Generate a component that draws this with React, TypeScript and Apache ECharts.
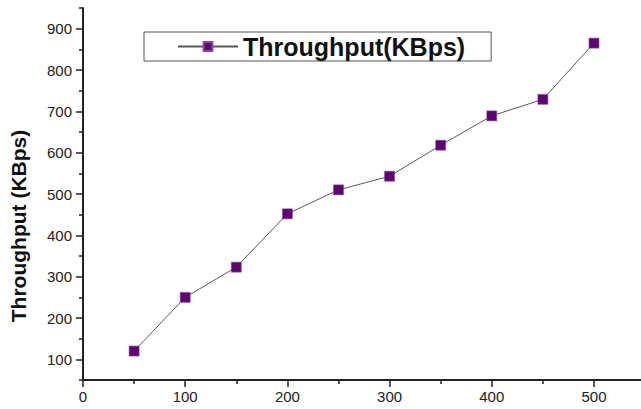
import React, { useEffect, useRef } from "react";
import * as echarts from "echarts";

const xValues = [50, 100, 150, 200, 250, 300, 350, 400, 450, 500];
const throughput = [120, 250, 323, 452, 510, 543, 618, 689, 729, 865];
const xMajorTicks = [0, 100, 200, 300, 400, 500];
const xMinorTicks = [50, 150, 250, 350, 450];
const yMajorTicks = [100, 200, 300, 400, 500, 600, 700, 800, 900];
const yMinorTicks = [50, 150, 250, 350, 450, 550, 650, 750, 850, 950];
const seriesName = "Throughput(KBps)";
const yTitle = "Throughput (KBps)";

export default function App() {
  const ref = useRef<HTMLDivElement>(null);
  useEffect(() => {
    if (!ref.current) return;
    const chart = echarts.init(ref.current, null, { renderer: "svg" });
    const axisColor = "#222";
    const font = "'Liberation Sans', Arial, sans-serif";
    chart.setOption({
      animation: false,
      backgroundColor: "#ffffff",
      grid: { left: 80, right: 0, top: 8, bottom: 29, containLabel: false },
      legend: {
        left: 144,
        top: 32,
        orient: "horizontal",
        data: [seriesName],
        itemWidth: 60,
        itemHeight: 11,
        padding: [2, 26, 2, 33],
        borderColor: "#555",
        borderWidth: 1,
        textStyle: { fontSize: 25, fontWeight: "bold", color: "#111", fontFamily: font },
      },
      xAxis: [
        {
          type: "value",
          min: 0,
          max: 546,
          position: "bottom",
          axisLine: { show: true, onZero: false, lineStyle: { color: axisColor, width: 2 } },
          axisTick: { show: true, inside: false, length: 7, customValues: xMajorTicks, lineStyle: { color: axisColor, width: 1.5 } },
          axisLabel: { customValues: xMajorTicks, fontSize: 15, color: "#222", margin: 9, fontFamily: font },
          splitLine: { show: false },
        },
        {
          type: "value",
          min: 0,
          max: 546,
          position: "bottom",
          axisLine: { show: false, onZero: false },
          axisTick: { show: true, inside: false, length: 4, customValues: xMinorTicks, lineStyle: { color: axisColor, width: 1.5 } },
          axisLabel: { show: false },
          splitLine: { show: false },
        },
      ],
      yAxis: [
        {
          type: "value",
          min: 50,
          max: 950,
          position: "left",
          name: yTitle,
          nameLocation: "middle",
          nameRotate: 90,
          nameGap: 54,
          nameTextStyle: { fontSize: 21, fontWeight: "bold", color: "#111", fontFamily: font, padding: [0, 64, 0, 0] },
          axisLine: { show: true, onZero: false, lineStyle: { color: axisColor, width: 2 } },
          axisTick: { show: true, inside: false, length: 7, customValues: yMajorTicks, lineStyle: { color: axisColor, width: 1.5 } },
          axisLabel: { customValues: yMajorTicks, fontSize: 15, color: "#222", margin: 11, fontFamily: font },
          splitLine: { show: false },
        },
        {
          type: "value",
          min: 50,
          max: 950,
          position: "left",
          axisLine: { show: false, onZero: false },
          axisTick: { show: true, inside: false, length: 4, customValues: yMinorTicks, lineStyle: { color: axisColor, width: 1.5 } },
          axisLabel: { show: false },
          splitLine: { show: false },
        },
      ],
      series: [
        {
          name: seriesName,
          type: "line",
          xAxisIndex: 0,
          yAxisIndex: 0,
          data: xValues.map((x, i) => [x, throughput[i]]),
          symbol: "rect",
          symbolSize: 10,
          lineStyle: { color: "#5a5a5a", width: 1 },
          itemStyle: { color: "#5c066f", borderColor: "#8a4a9c", borderWidth: 0.6 },
        },
      ],
    });
    return () => chart.dispose();
  }, []);
  return <div ref={ref} style={{ width: 641, height: 409, position: "absolute", left: 0, top: 0 }} />;
}
